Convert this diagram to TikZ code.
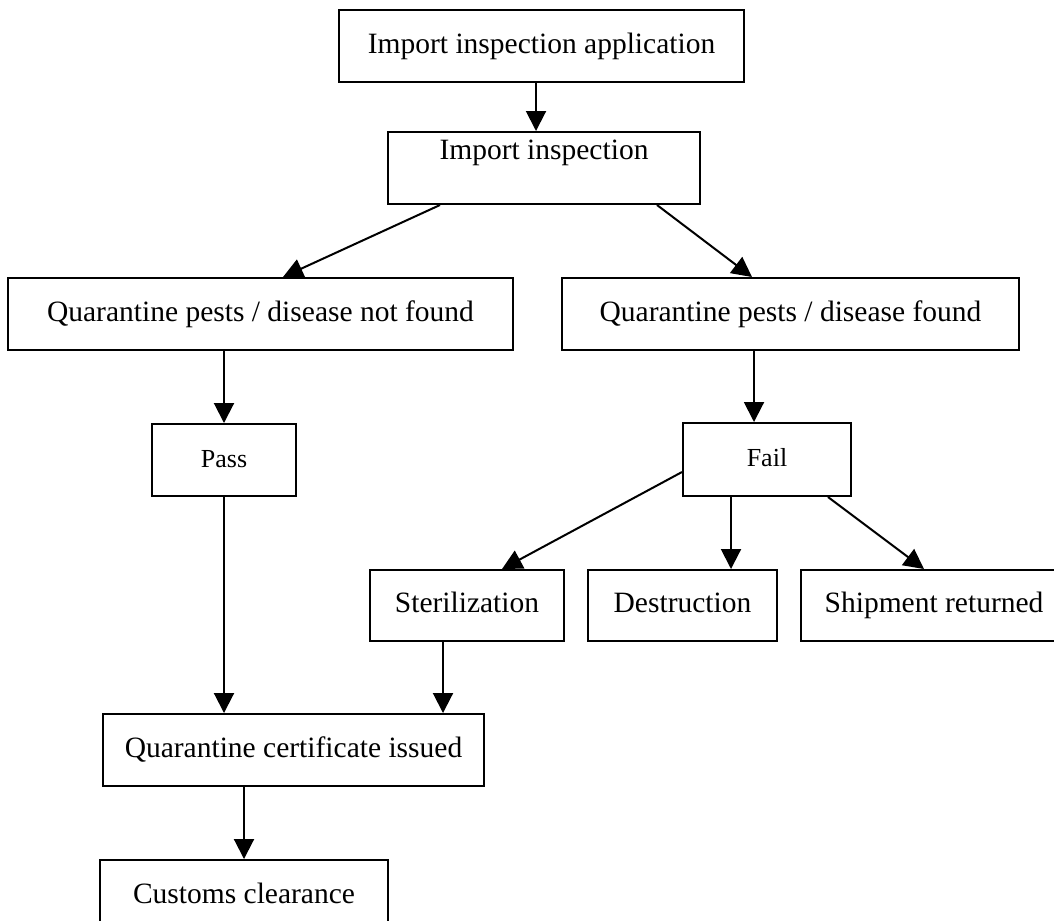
\documentclass[tikz,border=0pt]{standalone}
\usepackage{fontspec}
\setmainfont{Liberation Serif}
\usetikzlibrary{arrows.meta,positioning}
\tikzset{
  font=\fontsize{11.8pt}{14pt}\selectfont,
  box/.style={draw,line width=0.8pt,inner sep=2pt,align=center,
              minimum height=28.8pt,text height=8.2pt,text depth=2.6pt},
  small/.style={font=\fontsize{10.4pt}{12.5pt}\selectfont},
  flow/.style={-{Triangle[length=8pt,width=8pt]},line width=0.8pt},
}
\begin{document}
\begin{tikzpicture}
  \useasboundingbox (0,0) rectangle (421.6pt,-368pt);

  \node[box,minimum width=162pt] (app) at (216.6pt,-18.4pt) {Import inspection application};
  % text sits high in this box, as in the original
  \node[box,minimum width=124.8pt,text depth=15pt,below=19.2pt of app,xshift=1pt] (insp) {Import inspection};
  \node[box,minimum width=202pt,below=28.8pt of insp,xshift=-113.4pt] (nf) {Quarantine pests / disease not found};
  \node[box,minimum width=182.8pt,right=18.8pt of nf] (fd) {Quarantine pests / disease found};
  \node[box,small,minimum width=57.6pt,below=28.8pt of nf,xshift=-14.6pt] (pass) {Pass};
  \node[box,small,minimum width=67.2pt,minimum height=29.2pt,below=28.4pt of fd,xshift=-9.4pt] (fail) {Fail};
  \node[box,minimum width=77.6pt,minimum height=28.4pt,below=28.8pt of fail,xshift=-120pt] (ster) {Sterilization};
  \node[box,minimum width=75.6pt,minimum height=28.4pt,right=8.8pt of ster] (dest) {Destruction};
  \node[box,minimum width=106.4pt,minimum height=28.4pt,right=8.8pt of dest] (ship) {Shipment returned};
  \node[box,minimum width=152.4pt,below=86.4pt of pass,xshift=27.8pt] (cert) {Quarantine certificate issued};
  \node[box,minimum width=115.2pt,below=28.8pt of cert,xshift=-19.8pt] (cust) {Customs clearance};

  \draw[flow] ([xshift=-2.2pt]app.south) -- ([xshift=-2.2pt]app.south |- insp.north);
  \draw[flow] ([xshift=-41.6pt]insp.south) -- ([xshift=9pt]nf.north);
  \draw[flow] ([xshift=45.2pt]insp.south) -- ([xshift=-15.4pt]fd.north);
  \draw[flow] (nf.south -| pass.north) -- (pass.north);
  \draw[flow] ([xshift=-5.2pt]fail.north |- fd.south) -- ([xshift=-5.2pt]fail.north);
  \draw[flow] ([yshift=-5pt]fail.west) -- ([xshift=14pt]ster.north);
  \draw[flow] ([xshift=-14.4pt]fail.south) -- ([xshift=-14.4pt]fail.south |- dest.north);
  \draw[flow] ([xshift=24.4pt]fail.south) -- ([xshift=-4pt]ship.north);
  \draw[flow] (pass.south) -- (pass.south |- cert.north);
  \draw[flow] ([xshift=-9.6pt]ster.south) -- ([xshift=-9.6pt]ster.south |- cert.north);
  \draw[flow] (cert.south -| cust.north) -- (cust.north);
\end{tikzpicture}
\end{document}
